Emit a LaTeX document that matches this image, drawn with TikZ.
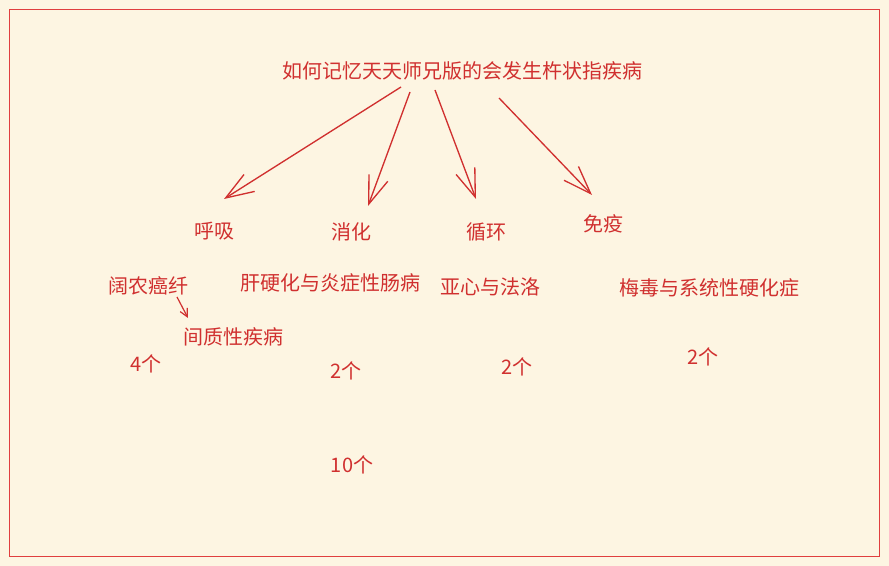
\documentclass[tikz,border=0pt]{standalone}
\usepackage{fontspec}
\newfontfamily\cjk{Noto Sans CJK SC}
\usetikzlibrary{arrows.meta}

\definecolor{papier}{HTML}{FDF5E2}
\definecolor{rotstift}{HTML}{D0302F}
\definecolor{rahmen}{HTML}{E03E3E}

\tikzset{
    schrift/.style={text=rotstift, inner sep=0pt, font=\cjk\fontsize{15}{17}\selectfont},
    zahl/.style={schrift, font=\cjk\fontsize{15}{17}\selectfont},
    pfeil/.style={draw=rotstift, line width=1pt, -{Straight Barb[length=21pt,width=15pt,line width=1pt]}},
    kleinpfeil/.style={draw=rotstift, line width=0.9pt, -{Straight Barb[length=6pt,width=6pt,line width=0.9pt]}}
}

\begin{document}
\begin{tikzpicture}[x=0.75pt, y=-0.75pt]

    % Paper and frame
    \fill[papier] (0,0) rectangle (889,566);
    \useasboundingbox (0,0) rectangle (889,566);
    \draw[rahmen, line width=1.1pt] (9.5,9.5) rectangle (879.5,556.5);

    % Title
    \node[schrift] (titel) at (462,71) {如何记忆天天师兄版的会发生杵状指疾病};

    % Systems
    \node[schrift] (huxi)    at (214,231) {呼吸};
    \node[schrift] (xiaohua) at (351,232) {消化};
    \node[schrift] (xunhuan) at (486,232) {循环};
    \node[schrift] (mianyi)  at (603,224) {免疫};

    % Diseases
    \node[schrift] (kuonong)  at (148,286) {阔农癌纤};
    \node[schrift] (jianzhi)  at (233,337) {间质性疾病};
    \node[schrift] (ganying)  at (330,283) {肝硬化与炎症性肠病};
    \node[schrift] (yaxin)    at (490,287) {亚心与法洛};
    \node[schrift] (meidu)    at (709,288) {梅毒与系统性硬化症};

    % Counts
    \node[zahl] (n1) at (146,364) {4个};
    \node[zahl] (n2) at (346,371) {2个};
    \node[zahl] (n3) at (517,367) {2个};
    \node[zahl] (n4) at (703,357) {2个};
    \node[zahl] (summe) at (352,465) {10个};

    % Arrow ends
    \coordinate (a1) at (401,87);  \coordinate (b1) at (224,199);
    \coordinate (a2) at (410,92);  \coordinate (b2) at (368,206);
    \coordinate (a3) at (435,90);  \coordinate (b3) at (476,199);
    \coordinate (a4) at (499,98);  \coordinate (b4) at (592,195);
    \coordinate (a5) at (177,297); \coordinate (b5) at (188,318);

    % Arrows
    \draw[pfeil] (a1) -- (b1);
    \draw[pfeil] (a2) -- (b2);
    \draw[pfeil] (a3) -- (b3);
    \draw[pfeil] (a4) -- (b4);
    \draw[kleinpfeil] (a5) -- (b5);

\end{tikzpicture}
\end{document}
